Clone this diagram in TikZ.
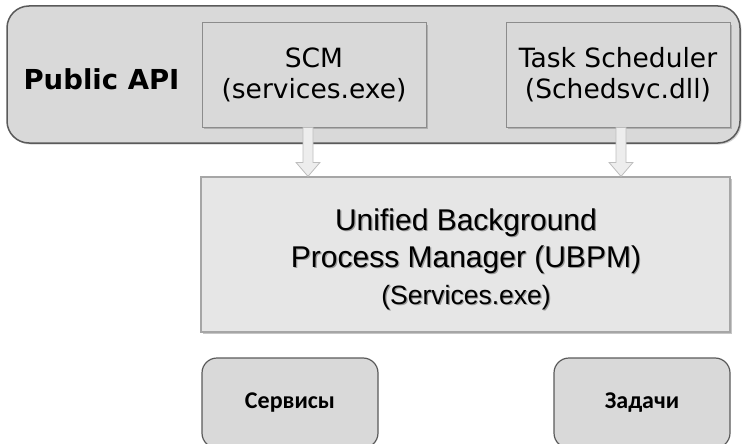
\documentclass[tikz,border=0pt]{standalone}
\usepackage{fontspec}
\setmainfont{Liberation Sans}
\newfontfamily\boxfont{DejaVu Sans}
\newfontfamily\carlito{Carlito}
\usetikzlibrary{shadows,calc}
\definecolor{boxgray}{HTML}{D9D9D9}
\definecolor{ubpmgray}{HTML}{E6E6E6}
\definecolor{edgedark}{HTML}{5A5A5A}
\definecolor{edgemid}{HTML}{8C8C8C}
\definecolor{arrowedge}{HTML}{BDBDBD}
\tikzset{
  outerbox/.style={draw=edgedark, line width=1.5pt, fill=boxgray, rounded corners=22pt,
    drop shadow={shadow xshift=1.5pt, shadow yshift=-1.5pt, opacity=0.35}},
  compbox/.style={draw=edgemid, line width=1pt, fill=boxgray, minimum width=224pt, minimum height=104pt,
    align=center, font=\boxfont\fontsize{26.5}{31}\selectfont, inner sep=0pt,
    drop shadow={shadow xshift=2pt, shadow yshift=-2pt, opacity=0.45}},
  ubpmbox/.style={draw=black!35, line width=1.2pt, fill=ubpmgray, minimum width=529pt, minimum height=155pt,
    drop shadow={shadow xshift=2pt, shadow yshift=-2pt, opacity=0.45}},
  ubpmtext/.style={align=center, inner sep=0pt, font=\fontsize{30}{37}\selectfont},
  ubpmshadow/.style={ubpmtext, text=black!40},
  leafbox/.style={draw=edgedark, line width=1.2pt, fill=boxgray, rounded corners=15pt,
    minimum width=176pt, minimum height=90pt, font=\carlito\bfseries\fontsize{24}{28}\selectfont},
  blockarrow/.style={draw=arrowedge, line width=0.8pt, fill=black!7},
}
\newcommand{\ubpmcontent}{Unified Background\\Process Manager (UBPM)\\\fontsize{26.5}{30}\selectfont (Services.exe)}
\begin{document}
\begin{tikzpicture}[x=1pt,y=-1pt]
\useasboundingbox (0,0) rectangle (742,444);
% public API container
\node[outerbox, minimum width=733pt, minimum height=137pt] (api) at (373.5,74.5) {};
\node[font=\boxfont\bfseries\fontsize{27.5}{32}\selectfont, inner sep=0pt] (apilabel) at (101.5,79) {Public API};
\node[compbox] (scm) at (314,75) {SCM\\(services.exe)};
\node[compbox] (task) at (618,75) {Task Scheduler\\(Schedsvc.dll)};
% UBPM
\node[ubpmbox] (ubpm) at (465.5,254.5) {};
\node[ubpmshadow] (ubpmts) at (467.2,260.2) {\ubpmcontent};
\node[ubpmtext] (ubpmt) at (466,259) {\ubpmcontent};
% arrows
\coordinate (a1) at ($(scm.south)+(-6,0)$);
\coordinate (a2) at ($(task.south)+(3,0)$);
\foreach \c in {a1,a2}{
  \draw[blockarrow] let \p1=(\c), \p2=(\c |- ubpm.north) in
    (\x1-5pt,\y1) -- (\x1-5pt,\y2+14pt) -- (\x1-12pt,\y2+14pt) -- (\x1,\y2)
    -- (\x1+12pt,\y2+14pt) -- (\x1+5pt,\y2+14pt) -- (\x1+5pt,\y1) -- cycle;
}
% leaves
\node[leafbox] (svc) at (290,403) {Сервисы};
\node[leafbox] (tasks) at (642,403) {Задачи};
\end{tikzpicture}
\end{document}
